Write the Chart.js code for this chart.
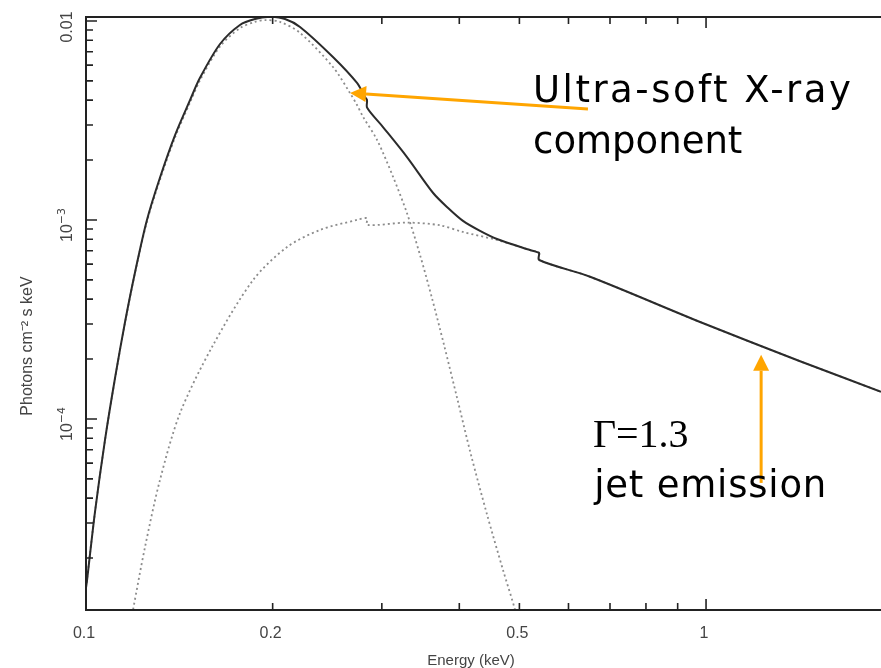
<!DOCTYPE html>
<html>
<head>
<meta charset="utf-8">
<title>Spectrum</title>
<script src="https://cdn.jsdelivr.net/npm/chart.js@4.4.0/dist/chart.umd.min.js"></script>
<style>
  html, body { margin: 0; padding: 0; background: #fff; overflow: hidden; }
  #wrap { width: 881px; height: 668px; }
</style>
</head>
<body>
<div id="wrap"><canvas id="spectrum" width="881" height="668"></canvas></div>
<script>
// Model components: energy in keV, flux in photons cm^-2 s^-1 keV^-1
const totalEnergy = [0.1, 0.1004, 0.1034, 0.1073, 0.1114, 0.1156, 0.12, 0.1254, 0.1316, 0.1392,
  0.1472, 0.1527, 0.1645, 0.1771, 0.1873, 0.1981, 0.2094, 0.2214, 0.2502, 0.2736, 0.2818,
  0.2839, 0.2841, 0.3013, 0.3294, 0.3627, 0.3837, 0.4055, 0.432, 0.4601, 0.5202, 0.5339, 0.538, 0.5382,
  0.6501, 0.978, 1.418, 1.915]
const totalFlux = [1.42e-5, 1.55e-5, 3.41e-5, 7.83e-5, 1.61e-4, 3.07e-4, 5.48e-4, 1.0e-3, 1.63e-3, 2.67e-3,
  4.01e-3, 5.18e-3, 7.66e-3, 9.55e-3, 0.01023, 0.0105, 0.01023, 0.00933, 0.00659, 0.00488, 0.00415,
  0.00401, 0.00366, 0.00293, 0.00207, 0.00137, 1.148e-3, 9.89e-4, 8.81e-4, 8.02e-4, 7.06e-4, 6.89e-4, 6.82e-4, 6.29e-4,
  5.18e-4, 3.07e-4, 1.95e-4, 1.37e-4]

// ultra-soft (thermal) component
const softEnergy = [0.1, 0.1034, 0.1073, 0.1114, 0.1156, 0.12, 0.1254, 0.1316, 0.1392, 0.1472,
  0.1527, 0.1645, 0.1771, 0.1873, 0.1944, 0.2055, 0.2214, 0.2502, 0.2666, 0.2736, 0.2798,
  0.2948, 0.3127, 0.3294, 0.3457, 0.3613, 0.378, 0.3966, 0.4178, 0.4435, 0.4705, 0.4919, 0.51]
const softFlux = [1.42e-5, 3.41e-5, 7.8e-5, 1.6e-4, 3.05e-4, 5.45e-4, 9.8e-4, 1.59e-3, 2.6e-3, 3.9e-3,
  5.03e-3, 7.45e-3, 9.2e-3, 9.9e-3, 0.0101, 0.0099, 0.00871, 0.00587, 0.00434, 0.00378, 0.0033,
  0.00252, 0.00165, 1.08e-3, 6.67e-4, 4.06e-4, 2.35e-4, 1.28e-4, 6.59e-5, 3.3e-5, 1.74e-5, 1.1e-5, 7e-6]

// absorbed power law (jet)
const jetEnergy = [0.116, 0.1191, 0.1245, 0.1316, 0.1418, 0.1597, 0.186, 0.211, 0.2385, 0.2736,
  0.2839, 0.2841, 0.3294, 0.3724, 0.4055, 0.4601, 0.5202, 0.538, 0.5382, 0.6501, 0.978, 1.418, 1.915]
const jetFlux = [7e-6, 1.1e-5, 2.27e-5, 4.93e-5, 1.07e-4, 2.3e-4, 4.99e-4, 7.31e-4, 8.91e-4, 1.0e-3,
  1.02e-3, 9.44e-4, 9.7e-4, 9.4e-4, 8.7e-4, 7.93e-4, 7.06e-4, 6.82e-4, 6.29e-4, 5.18e-4, 3.07e-4, 1.95e-4, 1.37e-4]

// axis ticks
const xMajorTicks = [0.1, 0.2, 0.5, 1]
const xTickLabels = ['0.1', '0.2', '0.5', '1']
const xDecadeTicks = [0.1, 1]
const yDecadeTicks = [1e-4, 1e-3, 1e-2]
const yTickLabels = [['10', '\u22124'], ['10', '\u22123'], ['0.01', '']]

const toPoints = (xs, ys) => xs.map((x, i) => ({ x, y: ys[i] }))

function minorTicks(min, max) {
  const out = []
  for (let p = Math.floor(Math.log10(min)); p <= Math.ceil(Math.log10(max)); p++) {
    for (let m = 1; m < 10; m++) {
      const v = m * Math.pow(10, p)
      if (v >= min && v <= max) out.push(v)
    }
  }
  return out
}

function drawArrow(ctx, x0, y0, x1, y1) {
  const ang = Math.atan2(y1 - y0, x1 - x0)
  const head = 16, half = 8
  const bx = x1 - head * Math.cos(ang)
  const by = y1 - head * Math.sin(ang)
  ctx.beginPath()
  ctx.moveTo(x0, y0)
  ctx.lineTo(bx, by)
  ctx.stroke()
  ctx.beginPath()
  ctx.moveTo(x1, y1)
  ctx.lineTo(bx + half * Math.sin(ang), by - half * Math.cos(ang))
  ctx.lineTo(bx - half * Math.sin(ang), by + half * Math.cos(ang))
  ctx.closePath()
  ctx.fill()
}

// frame, inward ticks, labels and the orange annotations
const framePlugin = {
  id: 'frame',
  afterDraw(chart) {
    const { ctx, chartArea: a, scales: { x, y } } = chart
    ctx.save()
    ctx.strokeStyle = '#222'
    ctx.lineWidth = 2
    ctx.beginPath()
    ctx.moveTo(a.right + 2, a.top)
    ctx.lineTo(a.left, a.top)
    ctx.lineTo(a.left, a.bottom)
    ctx.lineTo(a.right + 2, a.bottom)
    ctx.stroke()

    ctx.lineWidth = 1.6
    ctx.beginPath()
    minorTicks(x.min, x.max).forEach(v => {
      const px = x.getPixelForValue(v)
      const len = xDecadeTicks.includes(v) ? 11 : 7
      ctx.moveTo(px, a.bottom)
      ctx.lineTo(px, a.bottom - len)
      ctx.moveTo(px, a.top)
      ctx.lineTo(px, a.top + len)
    })
    minorTicks(y.min, y.max).forEach(v => {
      const py = y.getPixelForValue(v)
      const len = yDecadeTicks.some(d => Math.abs(d - v) < d * 1e-6) ? 11 : 7
      ctx.moveTo(a.left, py)
      ctx.lineTo(a.left + len, py)
    })
    ctx.stroke()

    // x tick labels and title
    ctx.fillStyle = '#444'
    ctx.font = '16px "Liberation Sans", Arial, sans-serif'
    ctx.textAlign = 'center'
    ctx.textBaseline = 'alphabetic'
    xMajorTicks.forEach((v, i) => {
      ctx.fillText(xTickLabels[i], x.getPixelForValue(v) - 2, a.bottom + 28)
    })
    ctx.font = '15px "Liberation Sans", Arial, sans-serif'
    ctx.fillText('Energy (keV)', 471, a.bottom + 55)

    // y tick labels, rotated
    yDecadeTicks.forEach((v, i) => {
      const [base, sup] = yTickLabels[i]
      const py = Math.max(y.getPixelForValue(v) + 5, a.top + 10)
      ctx.save()
      ctx.translate(72, py)
      ctx.rotate(-Math.PI / 2)
      ctx.font = '16px "Liberation Sans", Arial, sans-serif'
      const bw = ctx.measureText(base).width
      ctx.font = '11px "DejaVu Sans", sans-serif'
      const sw = sup ? ctx.measureText(sup).width : 0
      const start = -(bw + sw) / 2
      ctx.textAlign = 'left'
      ctx.font = '16px "Liberation Sans", Arial, sans-serif'
      ctx.fillText(base, start, 0)
      if (sup) {
        ctx.font = '11px "DejaVu Sans", sans-serif'
        ctx.fillText(sup, start + bw, -7)
      }
      ctx.restore()
    })
    ctx.save()
    ctx.translate(32, 346)
    ctx.rotate(-Math.PI / 2)
    ctx.font = '16px "Liberation Sans", Arial, sans-serif'
    ctx.textAlign = 'center'
    ctx.fillText('Photons cm\u207B\u00B2 s keV', 0, 0)
    ctx.restore()

    // annotations
    ctx.strokeStyle = '#ffa500'
    ctx.fillStyle = '#ffa500'
    ctx.lineWidth = 3
    drawArrow(ctx, x.getPixelForValue(0.645), y.getPixelForValue(0.00361),
      x.getPixelForValue(0.2666), y.getPixelForValue(0.00435))
    drawArrow(ctx, x.getPixelForValue(1.227), y.getPixelForValue(4.77e-5),
      x.getPixelForValue(1.227), y.getPixelForValue(2.1e-4))

    ctx.fillStyle = '#000'
    ctx.textAlign = 'left'
    ctx.font = '37px "DejaVu Sans", sans-serif'
    ctx.letterSpacing = '2.5px'
    ctx.fillText('Ultra-soft X-ray', x.getPixelForValue(0.526), y.getPixelForValue(0.00392))
    ctx.letterSpacing = '0px'
    ctx.fillText('component', x.getPixelForValue(0.526), y.getPixelForValue(0.00217))
    ctx.letterSpacing = '0.8px'
    ctx.fillText('jet emission', x.getPixelForValue(0.66), y.getPixelForValue(4.06e-5))
    ctx.letterSpacing = '0px'
    ctx.font = '40px "Liberation Serif", "Times New Roman", serif'
    ctx.fillText('\u0393=1.3', x.getPixelForValue(0.657), y.getPixelForValue(7.23e-5))
    ctx.restore()
  }
}

const lineStyle = { pointRadius: 0, tension: 0.3 }
const dotted = { borderColor: '#8c8c8c', borderWidth: 1.8, borderDash: [2, 3] }

new Chart(document.getElementById('spectrum'), {
  type: 'line',
  data: {
    datasets: [
      {
        ...lineStyle,
        label: 'Total',
        data: toPoints(totalEnergy, totalFlux),
        borderColor: '#2b2b2b',
        borderWidth: 2
      },
      {
        ...lineStyle,
        ...dotted,
        label: 'Ultra-soft component',
        data: toPoints(softEnergy, softFlux)
      },
      {
        ...lineStyle,
        ...dotted,
        label: 'Power law',
        data: toPoints(jetEnergy, jetFlux)
      }
    ]
  },
  options: {
    responsive: false,
    animation: false,
    devicePixelRatio: 1,
    layout: { padding: { left: 86, top: 17, right: 0, bottom: 58 } },
    plugins: {
      legend: { display: false },
      tooltip: { enabled: false }
    },
    scales: {
      x: { type: 'logarithmic', min: 0.1, max: 1.915, display: false },
      y: { type: 'logarithmic', min: 1.096e-5, max: 0.01047, display: false }
    }
  },
  plugins: [framePlugin]
})
</script>
</body>
</html>
